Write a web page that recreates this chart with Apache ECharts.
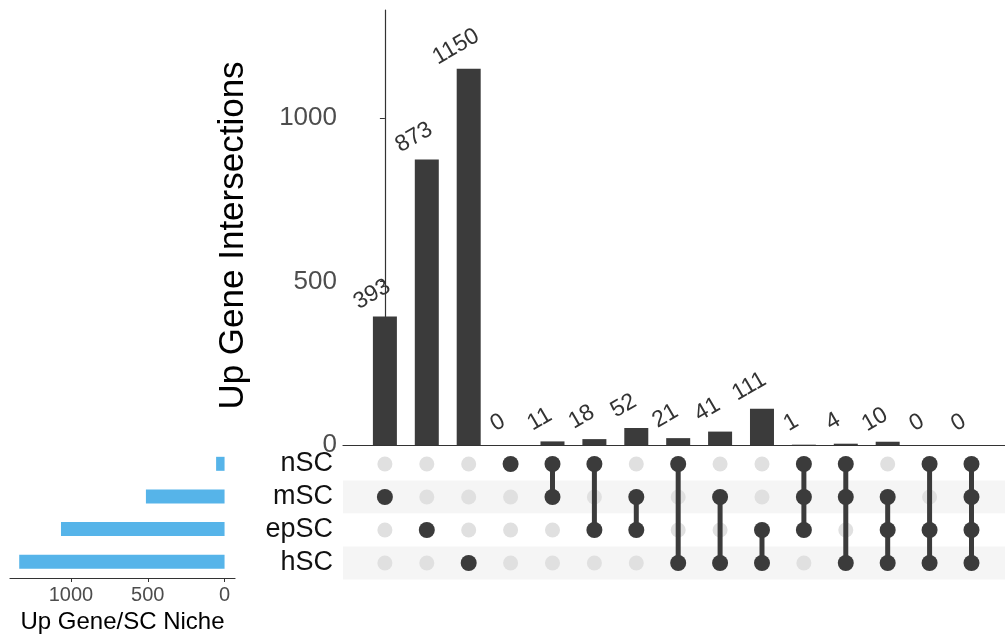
<!DOCTYPE html>
<html style="height: 100%">
<head>
    <meta charset="UTF-8">
    <title>Up Gene Intersections</title>
    <script src="https://cdn.jsdelivr.net/npm/echarts@6/dist/echarts.min.js"></script>
    <style>
        #main {
            width: 1005px;
            height: 635px;
        }
    </style>
</head>
<body style="margin: 0; background: #fff">
    <div id="main"></div>
    <script type="text/javascript">
        // sets, top to bottom in the matrix
        var sets = ['nSC', 'mSC', 'epSC', 'hSC'];
        var setSizes = [55, 512, 1065, 1337];

        // intersections, left to right
        var counts = [393, 873, 1150, 0, 11, 18, 52, 21, 41, 111, 1, 4, 10, 0, 0];
        var members = [
            ['mSC'], ['epSC'], ['hSC'], ['nSC'],
            ['nSC', 'mSC'], ['nSC', 'epSC'], ['mSC', 'epSC'],
            ['nSC', 'hSC'], ['mSC', 'hSC'], ['epSC', 'hSC'],
            ['nSC', 'mSC', 'epSC'], ['nSC', 'mSC', 'hSC'],
            ['mSC', 'epSC', 'hSC'], ['nSC', 'epSC', 'hSC'],
            ['nSC', 'mSC', 'epSC', 'hSC']
        ];
        var sizeTicks = [0, 500, 1000];

        var dark = '#3b3b3b';
        var font = 'Liberation Sans';
        var plain = function (v) { return String(v); };

        var chartDom = document.getElementById('main');
        var myChart = echarts.init(chartDom);

        var greyDots = [];
        var darkDots = [];
        var linkSeries = [];
        members.forEach(function (m, i) {
            sets.forEach(function (s) {
                greyDots.push([i, s]);
            });
            m.forEach(function (s) {
                darkDots.push([i, s]);
            });
            if (m.length > 1) {
                var idx = m.map(function (s) { return sets.indexOf(s); });
                var lo = Math.min.apply(null, idx);
                var hi = Math.max.apply(null, idx);
                linkSeries.push({
                    type: 'line',
                    xAxisIndex: 1,
                    yAxisIndex: 1,
                    symbol: 'none',
                    silent: true,
                    lineStyle: { color: dark, width: 5 },
                    data: [[i, sets[lo]], [i, sets[hi]]],
                    z: 3
                });
            }
        });

        var option = {
            animation: false,
            textStyle: { fontFamily: font },
            grid: [
                { left: 343, right: 0, top: 10, height: 435 },
                { left: 343, right: 0, top: 447.5, height: 132 },
                { left: 10, width: 225, top: 447.5, height: 132 }
            ],
            xAxis: [
                {
                    gridIndex: 0, type: 'value', min: -1, max: 14.8,
                    axisLine: { show: true, lineStyle: { color: '#333', width: 1.2 } },
                    axisTick: { show: false }, axisLabel: { show: false },
                    splitLine: { show: false }
                },
                {
                    gridIndex: 1, type: 'value', min: -1, max: 14.8, show: false
                },
                {
                    gridIndex: 2, type: 'value', inverse: true, min: -68, max: 1397,
                    axisLine: { show: true, lineStyle: { color: '#333', width: 1.2 } },
                    axisTick: { show: true, length: 4, customValues: sizeTicks, lineStyle: { color: '#333' } },
                    axisLabel: { customValues: sizeTicks, formatter: plain, fontSize: 20, color: '#4d4d4d', margin: 7 },
                    splitLine: { show: false },
                    name: 'Up Gene/SC Niche', nameLocation: 'middle', nameGap: 32,
                    nameTextStyle: { fontSize: 24, color: '#000' }
                }
            ],
            yAxis: [
                {
                    gridIndex: 0, type: 'value', min: 0, max: 1330, interval: 500,
                    axisLine: { show: true, lineStyle: { color: '#333', width: 1.2 } },
                    axisTick: { show: true, length: 5, lineStyle: { color: '#333' } },
                    axisLabel: { fontSize: 26, color: '#4d4d4d', margin: 6, formatter: plain, showMaxLabel: false },
                    splitLine: { show: false },
                    name: 'Up Gene Intersections', nameLocation: 'middle', nameGap: 92,
                    nameTextStyle: { fontSize: 35, color: '#000', padding: [0, 16, 0, 0] }
                },
                {
                    gridIndex: 1, type: 'category', data: sets, inverse: true,
                    axisLine: { show: false }, axisTick: { show: false },
                    axisLabel: { interval: 0, fontSize: 27, color: '#111', margin: 10 },
                    splitArea: { show: true, interval: 0, areaStyle: { color: ['#ffffff', '#f5f5f5'] } }
                },
                {
                    gridIndex: 2, type: 'category', data: sets, inverse: true, show: false
                }
            ],
            series: [
                {
                    type: 'bar',
                    xAxisIndex: 0,
                    yAxisIndex: 0,
                    barWidth: 24,
                    itemStyle: { color: dark },
                    data: counts.map(function (v, i) { return [i, v]; }),
                    label: {
                        show: true,
                        position: 'top',
                        distance: 0,
                        rotate: 30,
                        fontSize: 23,
                        color: '#333',
                        padding: [0, 0, 14, 0],
                        formatter: function (p) { return p.value[1]; }
                    }
                },
                {
                    type: 'scatter',
                    xAxisIndex: 1,
                    yAxisIndex: 1,
                    symbolSize: 15,
                    silent: true,
                    itemStyle: { color: '#e0e0e0', opacity: 1 },
                    data: greyDots,
                    z: 2
                }
            ].concat(linkSeries).concat([
                {
                    type: 'scatter',
                    xAxisIndex: 1,
                    yAxisIndex: 1,
                    symbolSize: 16,
                    silent: true,
                    itemStyle: { color: dark, opacity: 1 },
                    data: darkDots,
                    z: 4
                },
                {
                    type: 'bar',
                    xAxisIndex: 2,
                    yAxisIndex: 2,
                    barWidth: 14,
                    itemStyle: { color: '#56B4E9' },
                    data: setSizes
                }
            ])
        };

        myChart.setOption(option);
    </script>
</body>
</html>
